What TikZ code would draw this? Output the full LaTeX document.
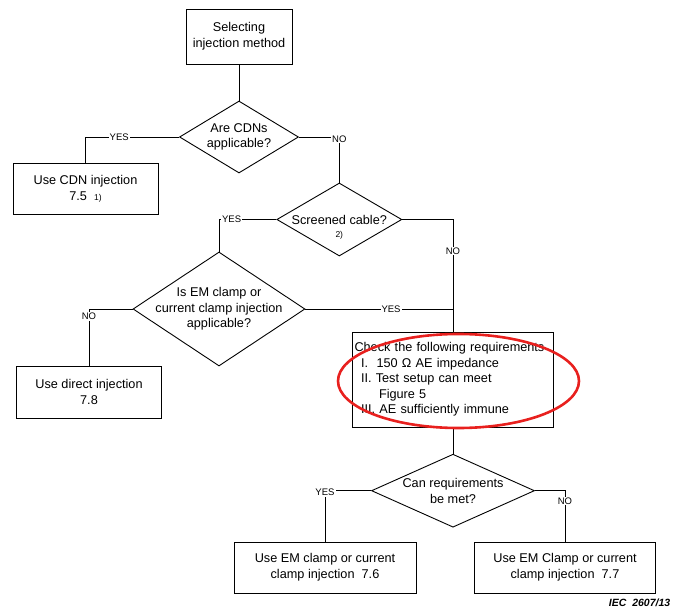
\documentclass[tikz,border=0pt]{standalone}
\usepackage{fontspec}
\setmainfont{Liberation Sans}
\usetikzlibrary{shapes.geometric}
\definecolor{markred}{RGB}{232,32,30}

\begin{document}
\begin{tikzpicture}[x=1pt, y=-1pt, line width=0.9pt,
  every node/.style={font=\fontsize{12.7}{15.6}\selectfont},
  box/.style={draw, rectangle, align=center, inner sep=0pt},
  dec/.style={draw, diamond, inner sep=0pt},
  ans/.style={fill=white, inner sep=1pt, font=\fontsize{9.5}{11}\selectfont}]
  \useasboundingbox (0,0) rectangle (681,610);
  % boxes
  \node[box, minimum width=106pt, minimum height=55pt] (start) at (239,36.5) {Selecting\\injection method};
  \node[box, minimum width=145pt, minimum height=51pt] (cdn) at (85.5,188.5) {Use CDN injection\\7.5\ \ {\fontsize{8.5}{10}\selectfont 1)}};
  \node[box, minimum width=145pt, minimum height=52pt] (direct) at (89,392) {Use direct injection\\7.8};
  \node[box, minimum width=201pt, minimum height=95pt, text width=197pt, align=left] (check) at (453,379.5) {Check the following requirements\\
    \hspace*{6.5pt}I.\ \ 150 Ω AE impedance\\
    \hspace*{6.5pt}II.\ Test setup can meet\\
    \hspace*{24.5pt}Figure 5\\
    \hspace*{6.5pt}III. AE sufficiently immune};
  \node[box, minimum width=182pt, minimum height=51pt] (left) at (325,567.5) {Use EM clamp or current\\clamp injection\ \ 7.6};
  \node[box, minimum width=181pt, minimum height=51pt] (right) at (565,567.5) {Use EM Clamp or current\\clamp injection\ \ 7.7};
  % decisions
  \node[dec, minimum width=119pt, minimum height=72pt] (q1) at (239,137) {};
  \node[align=center] (q1t) at (q1) {Are CDNs\\applicable?};
  \node[dec, minimum width=125pt, minimum height=73pt] (q2) at (339.3,219.5) {};
  \node (q2t) at (q2) [label={[font=\fontsize{8.5}{10}\selectfont]below:2)}] {Screened cable?};
  \node[dec, minimum width=172pt, minimum height=114pt] (q3) at (219,309) {};
  \node[align=center] (q3t) at (q3) {Is EM clamp or\\current clamp injection\\applicable?};
  \node[dec, minimum width=163pt, minimum height=73pt] (q4) at (453,490.7) {};
  \node[align=center] (q4t) at (q4) {Can requirements\\be met?};
  % connectors
  \draw (start) -- (q1);
  \draw (q1.west) -| node[ans, pos=0.32] {YES} (cdn.north);
  \draw (q1.east) -| node[ans, pos=0.5, yshift=-2pt] {NO} (q2.north);
  \draw (q2.east) -| node[ans, pos=0.64] {NO} (check.north);
  \draw (q2.west) -| node[ans, pos=0.39] {YES} (q3.north);
  \coordinate (join) at (q3.east -| check.north);
  \draw (q3.east) -- node[ans, pos=0.58] {YES} (join);
  \draw (q3.west) -| node[ans, pos=0.565] {NO} (direct.north);
  \draw (check) -- (q4);
  \draw (q4.west) -| node[ans, pos=0.5, yshift=-2pt] {YES} (left.north);
  \draw (q4.east) -| node[ans, pos=0.6] {NO} (right.north);
  % marking and figure number
  \draw[markred, line width=2.6pt] (458.5,381) ellipse (120.5pt and 47pt);
  \node[anchor=east, font=\fontsize{10.5}{12}\selectfont\bfseries\itshape] (iec) at (674,603) {IEC\ \ 2607/13};
\end{tikzpicture}
\end{document}
